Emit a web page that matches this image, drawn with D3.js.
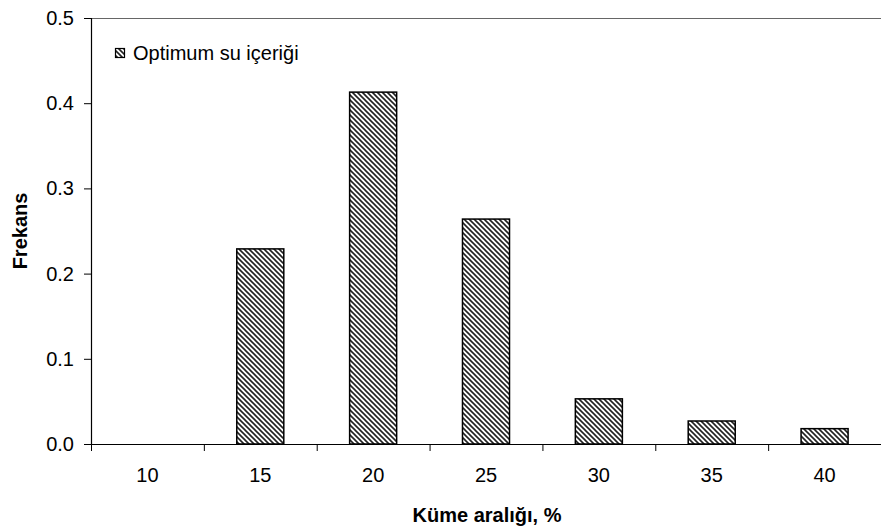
<!DOCTYPE html>
<html>
<head>
<meta charset="utf-8">
<script src="https://cdn.jsdelivr.net/npm/d3@7"></script>
<style>
  html, body { margin: 0; padding: 0; background: #fff; }
  svg { display: block; font-family: "Liberation Sans", Arial, sans-serif; }
</style>
</head>
<body>
<svg id="chart" width="881" height="530"></svg>
<script>
const categories = ["10", "15", "20", "25", "30", "35", "40"];
const values = [0, 0.229, 0.413, 0.264, 0.053, 0.027, 0.018];
const yTicks = [0, 0.1, 0.2, 0.3, 0.4, 0.5];
const seriesName = "Optimum su içeriği";
const xTitle = "Küme aralığı, %";
const yTitle = "Frekans";

const FS = 20;
const svg = d3.select("#chart");
const margin = {left: 91, top: 18, right: 0, bottom: 86};
const W = 881, H = 530;
const x0 = margin.left, x1 = W - margin.right;
const y0 = H - margin.bottom, y1 = margin.top;

const x = d3.scaleBand().domain(categories).range([x0, x1]).paddingInner(1.4 / 2.4).paddingOuter(0.7 / 2.4);
const xb = d3.scaleBand().domain(categories).range([x0, x1]);
const y = d3.scaleLinear().domain([0, 0.5]).range([y0, y1]);

const defs = svg.append("defs");
const P = 5;
const pat = defs.append("pattern")
  .attr("id", "hatch").attr("patternUnits", "userSpaceOnUse")
  .attr("width", P).attr("height", P);
pat.append("rect").attr("width", P).attr("height", P).attr("fill", "#fff");
pat.append("path")
  .attr("d", `M-1,-1 L${P + 1},${P + 1} M${P - 1},-1 L${P + 1},1 M-1,${P - 1} L1,${P + 1}`)
  .attr("stroke", "#222").attr("stroke-width", 1.6);

// top border
svg.append("line").attr("x1", x0).attr("x2", x1).attr("y1", y1 + 0.5).attr("y2", y1 + 0.5)
  .attr("stroke", "#666").attr("stroke-width", 1.2);

// bars
svg.append("g").selectAll("rect").data(values).join("rect")
  .attr("x", (d, i) => x(categories[i]))
  .attr("y", d => y(d))
  .attr("width", x.bandwidth())
  .attr("height", d => y0 - y(d))
  .attr("fill", "url(#hatch)")
  .attr("stroke", d => d > 0 ? "#000" : "none")
  .attr("stroke-width", 1.5);

// y axis
const yAxis = d3.axisLeft(y).tickValues(yTicks).tickFormat(d3.format(".1f")).tickSize(7).tickPadding(10);
const gy = svg.append("g").attr("transform", `translate(${x0},0)`).call(yAxis);
gy.select(".domain").attr("stroke", "#000").attr("stroke-width", 1.2);
gy.selectAll(".tick line").attr("stroke", "#000");
gy.selectAll("text").attr("font-size", FS).attr("fill", "#000").attr("font-family", "Liberation Sans, Arial, sans-serif");

// x axis
const gx = svg.append("g").attr("transform", `translate(0,${y0})`)
  .call(d3.axisBottom(xb).tickSize(0).tickPadding(24));
gx.select(".domain").attr("stroke", "#000").attr("stroke-width", 1.2);
gx.selectAll("text").attr("font-size", FS).attr("fill", "#000").attr("font-family", "Liberation Sans, Arial, sans-serif");
// tick marks at band boundaries
svg.append("g").selectAll("line").data(categories).join("line")
  .attr("x1", d => xb(d) + 0.5).attr("x2", d => xb(d) + 0.5)
  .attr("y1", y0).attr("y2", y0 + 7).attr("stroke", "#000");

// titles
svg.append("text").attr("x", 487).attr("y", 522).attr("text-anchor", "middle")
  .attr("font-size", FS).attr("font-weight", "bold").text(xTitle);
svg.append("text").attr("transform", `translate(27,${(y0 + y1) / 2}) rotate(-90)`)
  .attr("text-anchor", "middle").attr("font-size", FS).attr("font-weight", "bold").text(yTitle);

// legend
svg.append("rect").attr("x", 115.5).attr("y", 48.5).attr("width", 9).attr("height", 9)
  .attr("fill", "url(#hatch)").attr("stroke", "#000").attr("stroke-width", 1.2);
svg.append("text").attr("x", 133).attr("y", 60).attr("font-size", FS).text(seriesName);
</script>
</body>
</html>
